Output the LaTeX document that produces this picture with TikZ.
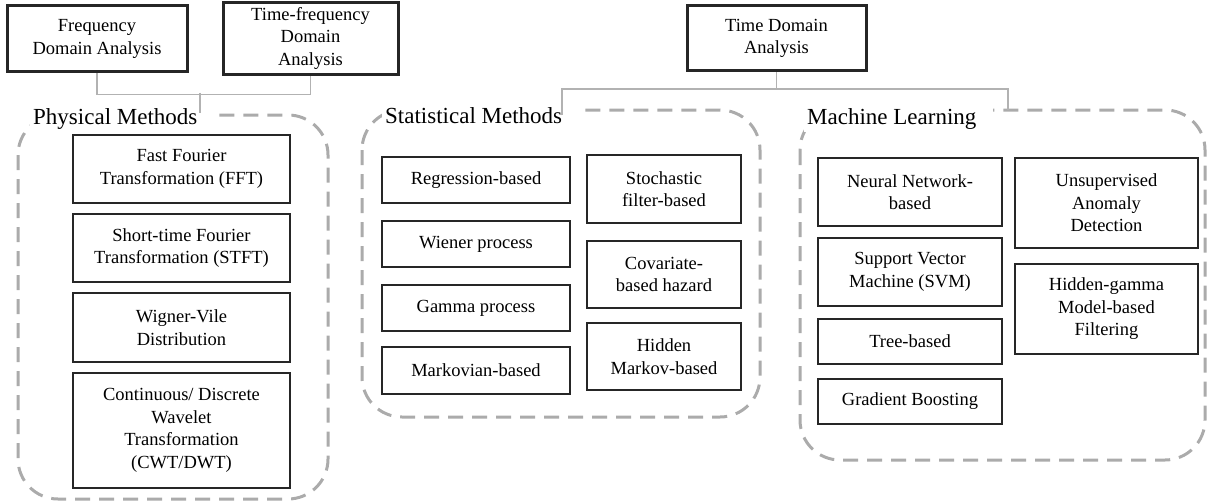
\documentclass[tikz,border=0pt]{standalone}
\usepackage{fontspec}
\setmainfont{Liberation Serif}
\newcommand\padright{\hspace*{14pt}}
\begin{document}
\begin{tikzpicture}[x=1pt,y=-1pt,
  inbox/.style={draw=black!85, line width=1.4pt, align=center, inner sep=2pt,
    font=\fontsize{18.5}{22.5}\selectfont},
  topbox/.style={inbox, line width=3pt},
  group/.style={draw=black!33, line width=3pt, dash pattern=on 15pt off 9pt, rounded corners=40pt},
  grouplabel/.style={fill=white, inner sep=3pt, font=\fontsize{23}{27}\selectfont},
  link/.style={draw=black!30, line width=1.5pt}]
\useasboundingbox (0,0) rectangle (1208,503);

% box macro: style, name, left, top, right, bottom, text
\newcommand\nbox[7][inbox]{\node[#1, minimum width={(#5-#3)*1pt}, minimum height={(#6-#4)*1pt}]
  (#2) at ({(#3+#5)/2},{(#4+#6)/2}) {#7};}

% dashed group frames
\draw[group] (18,115) rectangle (328,499);
\draw[group] (362,110) rectangle (760,417);
\draw[group] (800,110) rectangle (1205,460);

% group titles (white backing hides the frame behind them)
\node[grouplabel, anchor=west] (phys) at (30,119) {Physical Methods\padright};
\node[grouplabel, anchor=west] (stat) at (382,116) {Statistical Methods\padright};
\node[grouplabel, anchor=west] (ml) at (804,119) {Machine Learning\padright};

% analysis domains
\nbox[topbox]{freq}{7}{6}{187}{72}{Frequency\\Domain Analysis}
\nbox[topbox]{tf}{223}{6}{398}{71}{\raisebox{-4pt}{\begin{tabular}{@{}c@{}}Time-frequency\\Domain\\Analysis\end{tabular}}}
\nbox[topbox]{td}{687}{6}{866}{71}{Time Domain\\Analysis}

% connectors
\coordinate (pj) at (200,93);
\coordinate (pe) at (200,113);
\draw[link] (freq.south) -- ++(0,21) -| (tf.south);
\draw[link] (pj) -- (pe);
\coordinate (tj) at (778,89);
\coordinate (se) at (562,115);
\coordinate (mj) at (1008,89);
\coordinate (me) at (1008,110);
\draw[link] (td.south) -- (td.south |- tj);
\draw[link] (se) |- (mj) -- (me);

% physical methods
\nbox{fft}{73}{135}{290}{203}{Fast Fourier\\Transformation (FFT)}
\nbox{stft}{73}{214}{290}{282}{Short-time Fourier\\Transformation (STFT)}
\nbox{wv}{73}{293}{290}{362}{Wigner-Vile\\Distribution}
\nbox{cwt}{73}{373}{290}{488}{Continuous/ Discrete\\Wavelet\\Transformation\\(CWT/DWT)}

% statistical methods
\nbox{reg}{382}{157}{570}{203}{Regression-based}
\nbox{wien}{382}{221}{570}{267}{Wiener process}
\nbox{gam}{382}{285}{570}{331}{Gamma process}
\nbox{markov}{382}{347}{570}{394}{Markovian-based}
\nbox{stoch}{587}{155}{741}{223}{Stochastic\\filter-based}
\nbox{cov}{587}{241}{741}{308}{Covariate-\\based hazard}
\nbox{hmm}{587}{323}{741}{390}{Hidden\\Markov-based}

% machine learning
\nbox{nn}{818}{158}{1002}{226}{Neural Network-\\based}
\nbox{svm}{818}{238}{1002}{306}{Support Vector\\Machine (SVM)}
\nbox{tree}{818}{319}{1002}{364}{Tree-based}
\nbox{gb}{818}{379}{1002}{424}{Gradient Boosting}
\nbox{uad}{1015}{158}{1198}{248}{Unsupervised\\Anomaly\\Detection}
\nbox{hg}{1015}{264}{1198}{354}{Hidden-gamma\\Model-based\\Filtering}

% connector ends stay visible above the title backing
\draw[link] (pj) -- (pe);
\draw[link] (se) -- (se |- mj);
\draw[link] (mj) -- (me);
\end{tikzpicture}
\end{document}
